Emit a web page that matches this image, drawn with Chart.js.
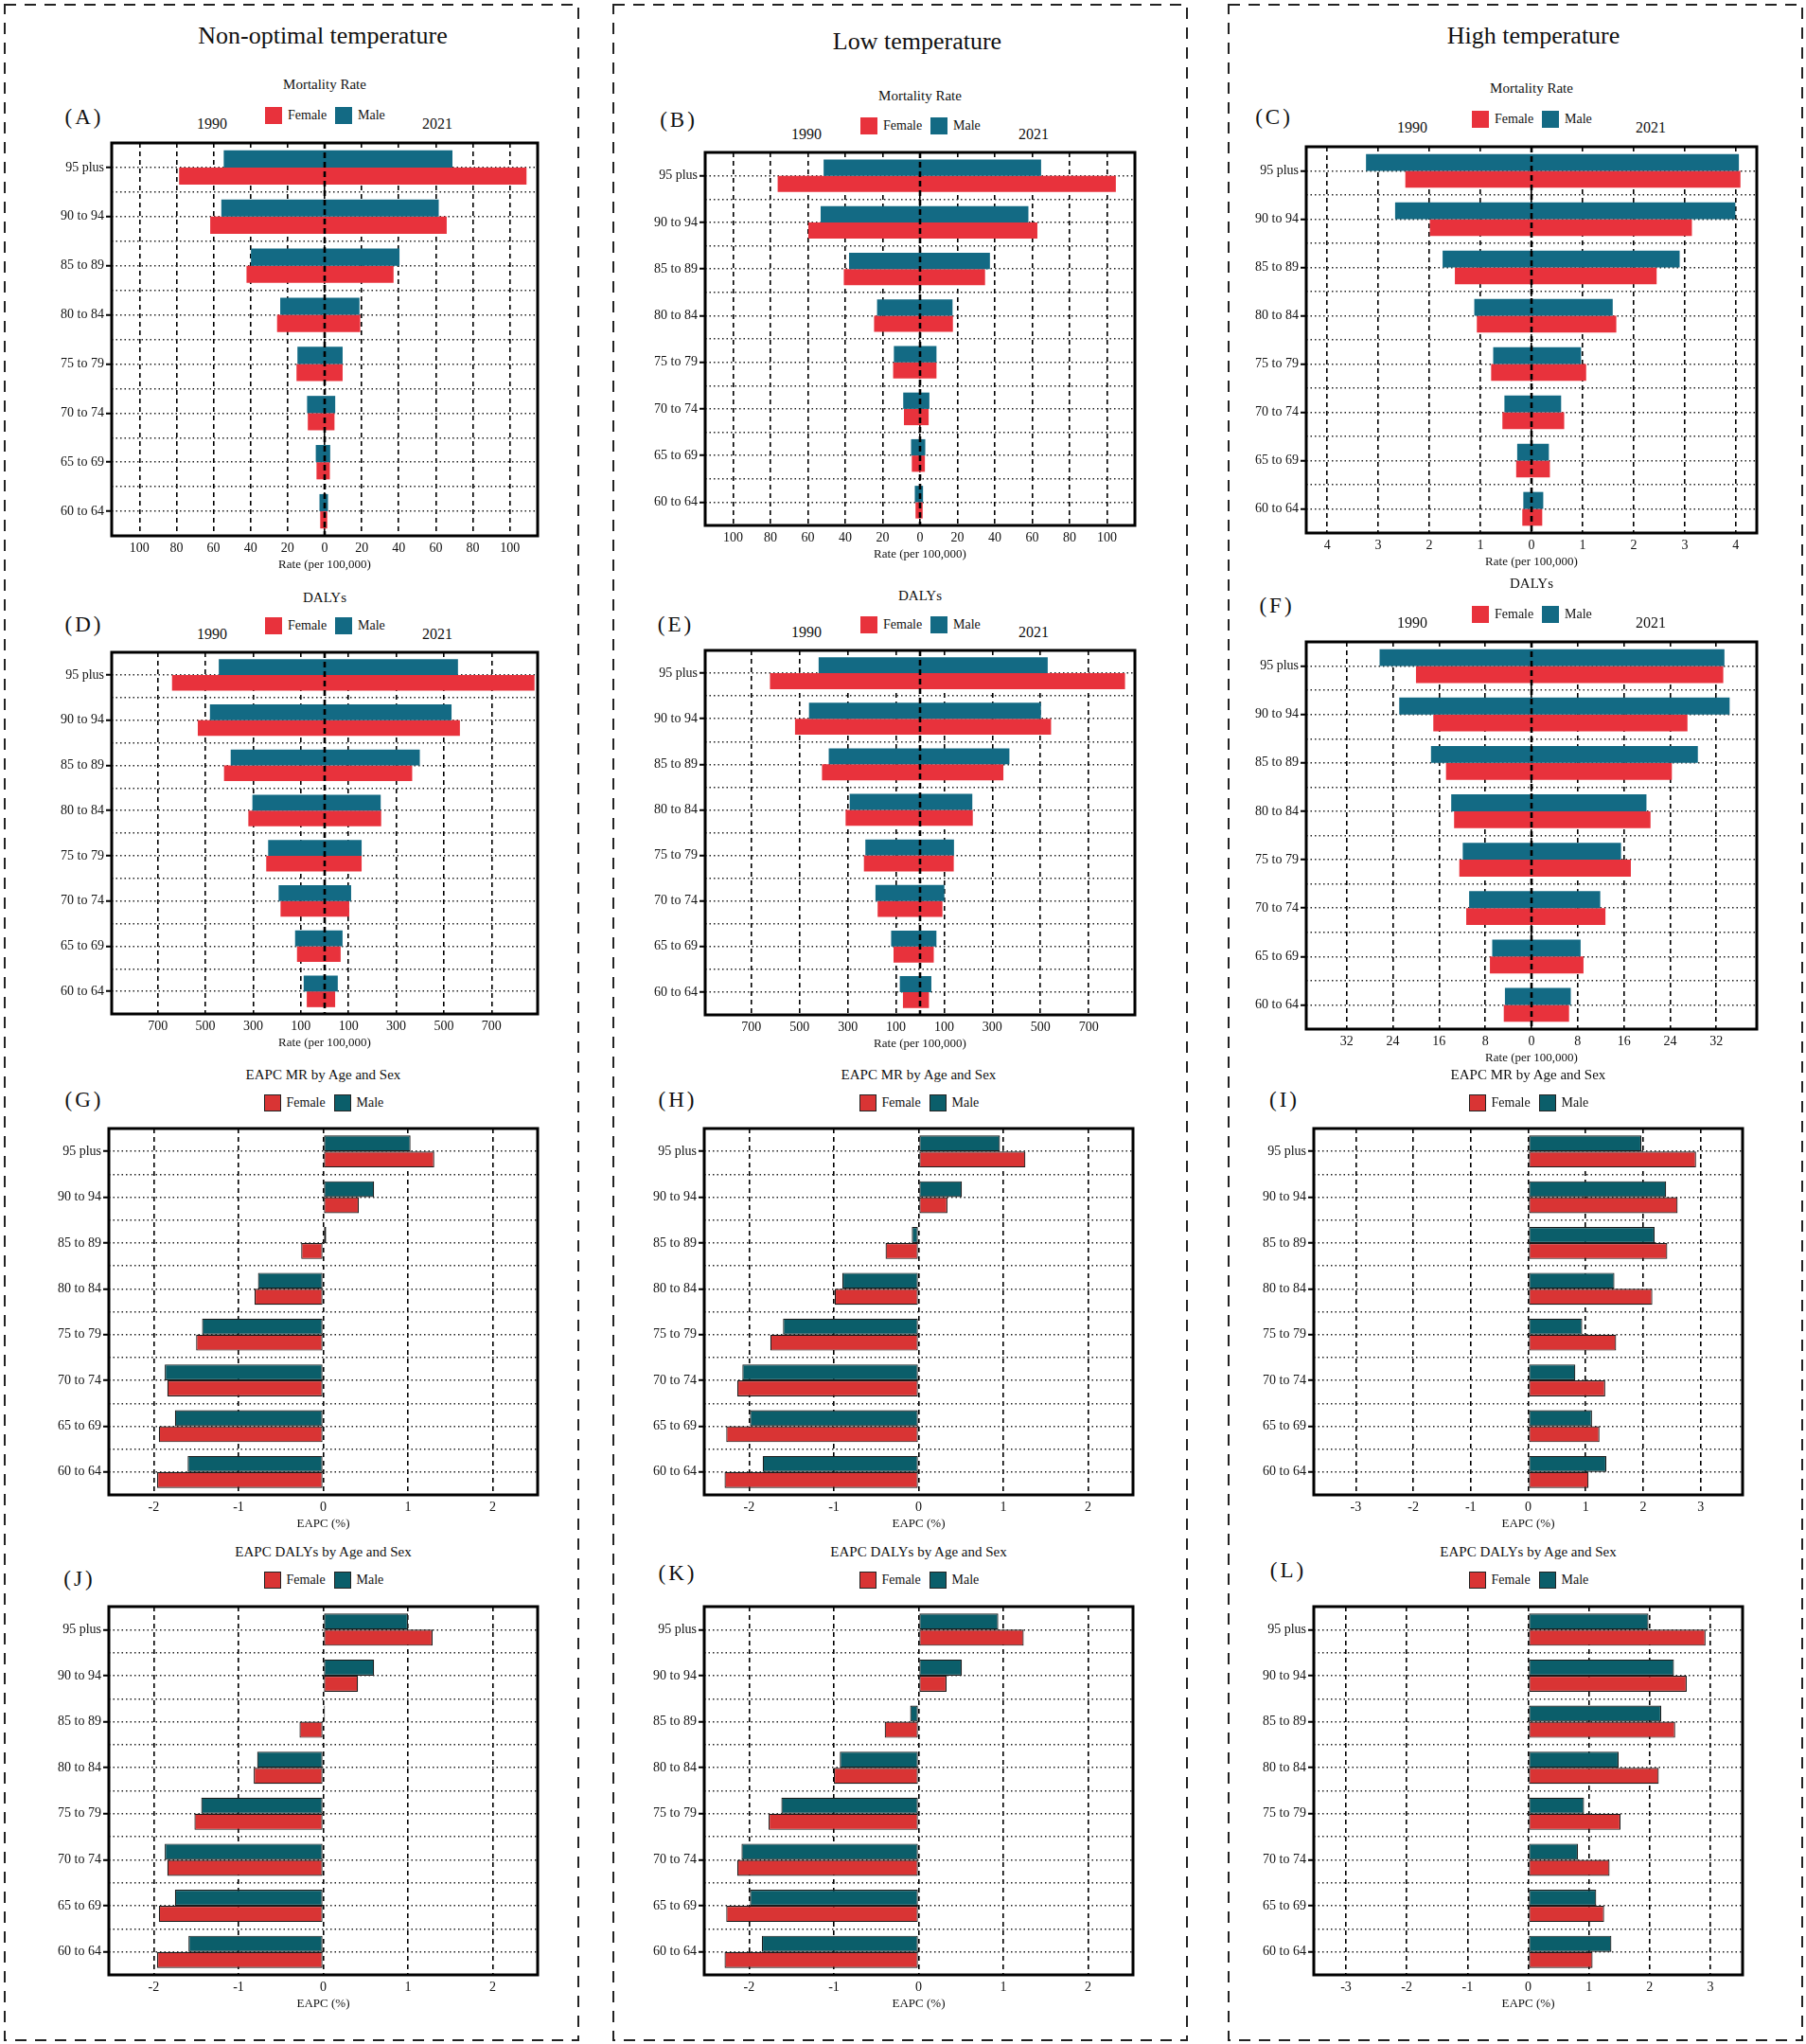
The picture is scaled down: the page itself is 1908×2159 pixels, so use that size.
<!DOCTYPE html>
<html>
<head>
<meta charset="utf-8">
<script src="https://cdn.jsdelivr.net/npm/chart.js@4.4.1/dist/chart.umd.min.js"></script>
<style>
  body { margin: 0; background: #fff; width: 1908px; height: 2159px; position: relative; overflow: hidden;
         font-family: "Liberation Serif", "Times New Roman", serif; color: #111; }
  .t { position: absolute; white-space: nowrap; line-height: 1; transform: translate(-50%, -50%); }
  canvas { position: absolute; }
  svg { position: absolute; left: 0; top: 0; }
</style>
</head>
<body>
<svg width="1908" height="2159">
  <g fill="none" stroke="#222" stroke-width="2" stroke-dasharray="12 9">
    <rect x="5" y="5" width="606" height="2150"></rect>
    <rect x="648" y="5" width="606" height="2150"></rect>
    <rect x="1298" y="5" width="606" height="2150"></rect>
  </g>
</svg>
<script>
const ages = ["95 plus", "90 to 94", "85 to 89", "80 to 84", "75 to 79", "70 to 74", "65 to 69", "60 to 64"];

// Mortality rate per 100,000 (1990 drawn to the left, 2021 to the right)
const nonOptMaleMR1990 = [54.5, 55.8, 39.8, 24.0, 14.7, 9.5, 4.8, 2.8];
const nonOptMaleMR2021 = [69.0, 61.6, 40.4, 18.8, 9.7, 5.7, 3.0, 1.8];
const nonOptFemaleMR1990 = [78.6, 61.8, 42.2, 25.7, 15.2, 9.1, 4.4, 2.4];
const nonOptFemaleMR2021 = [109.0, 65.9, 37.2, 19.2, 9.7, 5.3, 2.8, 1.4];

const lowMaleMR1990 = [51.6, 53.2, 38.0, 23.0, 14.0, 9.0, 4.8, 2.8];
const lowMaleMR2021 = [64.8, 58.0, 37.4, 17.4, 8.8, 5.0, 2.8, 1.6];
const lowFemaleMR1990 = [76.2, 59.8, 40.8, 24.6, 14.4, 8.6, 4.4, 2.4];
const lowFemaleMR2021 = [104.8, 62.8, 34.8, 17.6, 8.8, 4.6, 2.6, 1.4];

const highMaleMR1990 = [3.24, 2.67, 1.74, 1.12, 0.75, 0.53, 0.28, 0.16];
const highMaleMR2021 = [4.06, 3.99, 2.90, 1.59, 0.97, 0.58, 0.34, 0.23];
const highFemaleMR1990 = [2.47, 1.99, 1.50, 1.07, 0.79, 0.57, 0.30, 0.18];
const highFemaleMR2021 = [4.09, 3.14, 2.45, 1.66, 1.07, 0.64, 0.36, 0.21];

// DALYs rate per 100,000
const nonOptMaleDALY1990 = [444, 481, 394, 303, 237, 193, 124, 88];
const nonOptMaleDALY2021 = [559, 532, 399, 235, 155, 111, 75, 55];
const nonOptFemaleDALY1990 = [640, 532, 422, 320, 245, 185, 116, 75];
const nonOptFemaleDALY2021 = [880, 567, 367, 237, 155, 103, 67, 44];

const lowMaleDALY1990 = [421, 461, 379, 292, 227, 185, 120, 84];
const lowMaleDALY2021 = [530, 502, 371, 217, 141, 101, 68, 47];
const lowFemaleDALY1990 = [623, 519, 407, 309, 233, 176, 110, 71];
const lowFemaleDALY2021 = [851, 544, 346, 219, 140, 93, 57, 37];

const highMaleDALY1990 = [26.3, 22.9, 17.4, 13.9, 11.9, 10.8, 6.8, 4.6];
const highMaleDALY2021 = [33.4, 34.3, 28.8, 19.9, 15.5, 11.9, 8.5, 6.8];
const highFemaleDALY1990 = [20.0, 17.0, 14.8, 13.4, 12.5, 11.3, 7.2, 4.8];
const highFemaleDALY2021 = [33.2, 27.0, 24.3, 20.6, 17.2, 12.8, 9.0, 6.5];

// EAPC (%)
const nonOptMaleEapcMR = [1.03, 0.60, 0.035, -0.77, -1.43, -1.87, -1.75, -1.60];
const nonOptFemaleEapcMR = [1.31, 0.42, -0.26, -0.81, -1.50, -1.84, -1.94, -1.96];
const lowMaleEapcMR = [0.96, 0.51, -0.08, -0.90, -1.60, -2.08, -1.99, -1.84];
const lowFemaleEapcMR = [1.26, 0.34, -0.39, -0.99, -1.75, -2.14, -2.27, -2.29];
const highMaleEapcMR = [1.97, 2.40, 2.20, 1.50, 0.94, 0.82, 1.11, 1.36];
const highFemaleEapcMR = [2.92, 2.60, 2.42, 2.16, 1.53, 1.34, 1.24, 1.05];

const nonOptMaleEapcDALY = [1.00, 0.60, 0.02, -0.78, -1.44, -1.87, -1.75, -1.59];
const nonOptFemaleEapcDALY = [1.29, 0.41, -0.28, -0.82, -1.52, -1.84, -1.94, -1.96];
const lowMaleEapcDALY = [0.94, 0.51, -0.10, -0.93, -1.62, -2.09, -1.99, -1.85];
const lowFemaleEapcDALY = [1.24, 0.33, -0.40, -1.00, -1.77, -2.14, -2.27, -2.29];
const highMaleEapcDALY = [1.98, 2.40, 2.19, 1.49, 0.92, 0.82, 1.12, 1.37];
const highFemaleEapcDALY = [2.92, 2.61, 2.42, 2.15, 1.52, 1.34, 1.25, 1.06];

// tick values of the x axes
const ticksRate = [-100, -80, -60, -40, -20, 0, 20, 40, 60, 80, 100];
const ticksHighRate = [-4, -3, -2, -1, 0, 1, 2, 3, 4];
const ticksDaly = [-700, -500, -300, -100, 100, 300, 500, 700];
const ticksHighDaly = [-32, -24, -16, -8, 0, 8, 16, 24, 32];
const ticksEapc = [-2, -1, 0, 1, 2];
const ticksEapcHigh = [-3, -2, -1, 0, 1, 2, 3];

const SERIF = '"Liberation Serif", "Times New Roman", serif';
const PYR_MALE = "#136A84", PYR_FEMALE = "#E8323C";
const EAPC_MALE = "#0B5E6A", EAPC_FEMALE = "#D93434";
const AXW = 100, AXH = 46, PADT = 4, PADR = 4;

function addText(txt, x, y, size, left) {
  const d = document.createElement("div");
  d.className = "t";
  d.textContent = txt;
  d.style.left = x + "px";
  d.style.top = y + "px";
  d.style.fontSize = size + "px";
  if (left) d.style.transform = "translate(0,-50%)";
  document.body.appendChild(d);
  return d;
}

function addLegend(cx, cy, outlined) {
  const items = [
    [-63, outlined ? EAPC_FEMALE : PYR_FEMALE, "Female"],
    [11, outlined ? EAPC_MALE : PYR_MALE, "Male"]
  ];
  items.forEach(([dx, color, label]) => {
    const b = document.createElement("div");
    b.style.cssText = `position:absolute;left:${cx + dx}px;top:${cy - 9}px;width:18px;height:18px;` +
      `background:${color};box-sizing:border-box;` + (outlined ? "border:1px solid #222;" : "");
    document.body.appendChild(b);
    addText(label, cx + dx + 24, cy, 14, true);
  });
}

// plot frame on top of everything
const framePlugin = {
  id: "frame",
  afterDraw(chart) {
    const { ctx, chartArea: a } = chart;
    ctx.save();
    ctx.setLineDash([]);
    ctx.lineWidth = 3;
    ctx.strokeStyle = "#000";
    ctx.strokeRect(a.left, a.top, a.right - a.left, a.bottom - a.top);
    ctx.restore();
  }
};

// dashed centre line drawn over the pyramid bars
const zeroLinePlugin = {
  id: "zeroLine",
  afterDatasetsDraw(chart) {
    const { ctx, chartArea: a } = chart;
    const x = chart.scales.x.getPixelForValue(0);
    ctx.save();
    ctx.setLineDash([6, 4]);
    ctx.lineWidth = 2.6;
    ctx.strokeStyle = "#000";
    ctx.beginPath();
    ctx.moveTo(x, a.top);
    ctx.lineTo(x, a.bottom);
    ctx.stroke();
    ctx.restore();
  }
};

// keep the plot area exactly where the panel says
function fixWidth(wd) {
  return s => { s.width = wd; s.paddingTop = 0; s.paddingBottom = 0; };
}
function fixHeight(s) {
  s.height = AXH;
  s.paddingLeft = 0;
  s.paddingRight = 0;
}

function makePanel(p) {
  const cv = document.createElement("canvas");
  const w = (p.x1 - p.x0) + AXW + PADR;
  const h = (p.y1 - p.y0) + PADT + AXH;
  cv.width = w;
  cv.height = h;
  cv.style.left = (p.x0 - AXW) + "px";
  cv.style.top = (p.y0 - PADT) + "px";
  cv.style.width = w + "px";
  cv.style.height = h + "px";
  document.body.appendChild(cv);

  const pyr = p.kind === "pyr";
  let datasets;
  if (pyr) {
    datasets = [
      { label: "Male", data: p.m1990.map((v, i) => [-v, p.m2021[i]]), backgroundColor: PYR_MALE },
      { label: "Female", data: p.f1990.map((v, i) => [-v, p.f2021[i]]), backgroundColor: PYR_FEMALE }
    ].map(d => Object.assign(d, { borderWidth: 0, categoryPercentage: 0.7, barPercentage: 1.0 }));
  } else {
    datasets = [
      { label: "Male", data: p.male, backgroundColor: EAPC_MALE },
      { label: "Female", data: p.female, backgroundColor: EAPC_FEMALE }
    ].map(d => Object.assign(d, { borderWidth: 1.2, borderColor: "#1b1b1b", borderSkipped: false,
                                  categoryPercentage: 0.7, barPercentage: 1.0 }));
  }

  new Chart(cv, {
    type: "bar",
    data: { labels: ages, datasets: datasets },
    plugins: pyr ? [zeroLinePlugin, framePlugin] : [framePlugin],
    options: {
      responsive: false,
      animation: false,
      devicePixelRatio: 1,
      indexAxis: "y",
      layout: { padding: { top: PADT, right: PADR, left: 0, bottom: 0 } },
      plugins: { legend: { display: false }, tooltip: { enabled: false }, title: { display: false } },
      scales: {
        x: {
          type: "linear",
          min: -p.lim,
          max: p.lim,
          afterBuildTicks: s => { s.ticks = p.ticks.map(v => ({ value: v })); },
          afterFit: fixHeight,
          ticks: {
            autoSkip: false, maxRotation: 0, padding: 5, color: "#111",
            font: { family: SERIF, size: 14 },
            callback: v => pyr ? String(Math.abs(v)) : String(v)
          },
          grid: { color: "#000", lineWidth: 1.6, drawTicks: false },
          border: { display: false, dash: [5, 4] },
          title: { display: true, text: pyr ? "Rate (per 100,000)" : "EAPC (%)", color: "#111",
                   font: { family: SERIF, size: 13 }, padding: { top: 0, bottom: 8 } }
        },
        y: {
          type: "category",
          offset: true,
          afterFit: fixWidth(AXW),
          ticks: { color: "#111", padding: 2, font: { family: SERIF, size: 14 } },
          grid: { offset: false, color: "#222", lineWidth: 1.5, drawTicks: true, tickLength: 6,
                  tickColor: "#000", tickWidth: 2 },
          border: { display: false, dash: [1.5, 3] }
        },
        y2: {
          type: "category",
          position: "left",
          labels: ages,
          offset: true,
          afterFit: fixWidth(0),
          ticks: { display: false },
          grid: { offset: true, color: "#222", lineWidth: 1.5, drawTicks: false },
          border: { display: false, dash: [1.5, 3] }
        }
      }
    }
  });

  // texts around the plot
  const cx = (p.x0 + p.x1) / 2;
  addText(p.title, cx, p.titleY, 15);
  const lt = addText(p.letter, p.letterX, p.letterY, 23);
  lt.style.letterSpacing = "3px";
  addLegend(cx, p.legendY, !pyr);
  if (pyr) {
    addText("1990", p.yearX[0], p.yearY, 16);
    addText("2021", p.yearX[1], p.yearY, 16);
  }
}

const colYears = [[224, 462], [852, 1092], [1492, 1744]];

const panels = [
  { kind: "pyr", letter: "(A)", title: "Mortality Rate", x0: 118, x1: 568, y0: 151, y1: 566, lim: 115, ticks: ticksRate,
    m1990: nonOptMaleMR1990, m2021: nonOptMaleMR2021, f1990: nonOptFemaleMR1990, f2021: nonOptFemaleMR2021,
    titleY: 89, letterX: 89, letterY: 123, legendY: 122, yearY: 131, yearX: colYears[0] },
  { kind: "pyr", letter: "(B)", title: "Mortality Rate", x0: 745, x1: 1199, y0: 161, y1: 555, lim: 115, ticks: ticksRate,
    m1990: lowMaleMR1990, m2021: lowMaleMR2021, f1990: lowFemaleMR1990, f2021: lowFemaleMR2021,
    titleY: 101, letterX: 717, letterY: 126, legendY: 133, yearY: 142, yearX: colYears[1] },
  { kind: "pyr", letter: "(C)", title: "Mortality Rate", x0: 1380, x1: 1856, y0: 155, y1: 563, lim: 4.41, ticks: ticksHighRate,
    m1990: highMaleMR1990, m2021: highMaleMR2021, f1990: highFemaleMR1990, f2021: highFemaleMR2021,
    titleY: 93, letterX: 1346, letterY: 123, legendY: 126, yearY: 135, yearX: colYears[2] },
  { kind: "pyr", letter: "(D)", title: "DALYs", x0: 118, x1: 568, y0: 689, y1: 1071, lim: 893, ticks: ticksDaly,
    m1990: nonOptMaleDALY1990, m2021: nonOptMaleDALY2021, f1990: nonOptFemaleDALY1990, f2021: nonOptFemaleDALY2021,
    titleY: 631, letterX: 89, letterY: 659, legendY: 661, yearY: 670, yearX: colYears[0] },
  { kind: "pyr", letter: "(E)", title: "DALYs", x0: 745, x1: 1199, y0: 687, y1: 1072, lim: 892, ticks: ticksDaly,
    m1990: lowMaleDALY1990, m2021: lowMaleDALY2021, f1990: lowFemaleDALY1990, f2021: lowFemaleDALY2021,
    titleY: 629, letterX: 714, letterY: 659, legendY: 660, yearY: 668, yearX: colYears[1] },
  { kind: "pyr", letter: "(F)", title: "DALYs", x0: 1380, x1: 1856, y0: 678, y1: 1087, lim: 39, ticks: ticksHighDaly,
    m1990: highMaleDALY1990, m2021: highMaleDALY2021, f1990: highFemaleDALY1990, f2021: highFemaleDALY2021,
    titleY: 616, letterX: 1349, letterY: 639, legendY: 649, yearY: 658, yearX: colYears[2] },
  { kind: "eapc", letter: "(G)", title: "EAPC MR by Age and Sex", x0: 115, x1: 568, y0: 1192, y1: 1579, lim: 2.53, ticks: ticksEapc,
    male: nonOptMaleEapcMR, female: nonOptFemaleEapcMR, titleY: 1135, letterX: 89, letterY: 1161, legendY: 1165 },
  { kind: "eapc", letter: "(H)", title: "EAPC MR by Age and Sex", x0: 744, x1: 1197, y0: 1192, y1: 1579, lim: 2.53, ticks: ticksEapc,
    male: lowMaleEapcMR, female: lowFemaleEapcMR, titleY: 1135, letterX: 716, letterY: 1161, legendY: 1165 },
  { kind: "eapc", letter: "(I)", title: "EAPC MR by Age and Sex", x0: 1388, x1: 1841, y0: 1192, y1: 1579, lim: 3.73, ticks: ticksEapcHigh,
    male: highMaleEapcMR, female: highFemaleEapcMR, titleY: 1135, letterX: 1357, letterY: 1161, legendY: 1165 },
  { kind: "eapc", letter: "(J)", title: "EAPC DALYs by Age and Sex", x0: 115, x1: 568, y0: 1697, y1: 2086, lim: 2.53, ticks: ticksEapc,
    male: nonOptMaleEapcDALY, female: nonOptFemaleEapcDALY, titleY: 1639, letterX: 84, letterY: 1667, legendY: 1669 },
  { kind: "eapc", letter: "(K)", title: "EAPC DALYs by Age and Sex", x0: 744, x1: 1197, y0: 1697, y1: 2086, lim: 2.53, ticks: ticksEapc,
    male: lowMaleEapcDALY, female: lowFemaleEapcDALY, titleY: 1639, letterX: 716, letterY: 1661, legendY: 1669 },
  { kind: "eapc", letter: "(L)", title: "EAPC DALYs by Age and Sex", x0: 1388, x1: 1841, y0: 1697, y1: 2086, lim: 3.53, ticks: ticksEapcHigh,
    male: highMaleEapcDALY, female: highFemaleEapcDALY, titleY: 1639, letterX: 1361, letterY: 1658, legendY: 1669 }
];

addText("Non-optimal temperature", 341, 38, 26);
addText("Low temperature", 969, 44, 26);
addText("High temperature", 1620, 38, 26);

panels.forEach(makePanel);
</script>
</body>
</html>
